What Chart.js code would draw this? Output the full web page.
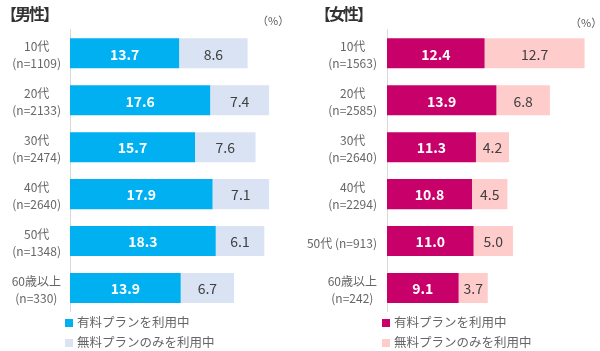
<!DOCTYPE html>
<html>
<head>
<meta charset="utf-8">
<script src="https://cdn.jsdelivr.net/npm/chart.js@4.4.0/dist/chart.umd.min.js"></script>
<style>
  body { margin: 0; background: #fff; font-family: "Noto Sans CJK JP", "Noto Sans", sans-serif; }
  #wrap { position: relative; width: 600px; height: 351px; overflow: hidden; }
  canvas { position: absolute; top: 0; }
  .title { position: absolute; top: 1px; font-size: 16px; font-weight: bold; color: #333; letter-spacing: -2px; }
  .unit { position: absolute; font-size: 11px; color: #595959; }
  .legend { position: absolute; font-size: 12.5px; color: #666; line-height: 20px; }
  .legend span { display: inline-block; width: 8px; height: 8px; margin-right: 4px; vertical-align: 0px; }
</style>
</head>
<body>
<div id="wrap">
  <canvas id="male" width="300" height="351" style="left:0"></canvas>
  <canvas id="female" width="300" height="351" style="left:300px"></canvas>
  <div class="title" style="left:1px">【男性】</div>
  <div class="title" style="left:315px">【女性】</div>
  <div class="unit" style="left:257px;top:12px">（%）</div>
  <div class="unit" style="left:570px;top:14px">（%）</div>
  <div class="legend" style="left:65px;top:312px">
    <div><span style="background:#00B0F0"></span>有料プランを利用中</div>
    <div><span style="background:#DAE3F3"></span>無料プランのみを利用中</div>
  </div>
  <div class="legend" style="left:382px;top:312px">
    <div><span style="background:#C8006A"></span>有料プランを利用中</div>
    <div><span style="background:#FFCCCC"></span>無料プランのみを利用中</div>
  </div>
</div>
<script>
// データ
const seriesNames = ["有料プランを利用中", "無料プランのみを利用中"];

const maleLabels = [["10代", "(n=1109)"], ["20代", "(n=2133)"], ["30代", "(n=2474)"], ["40代", "(n=2640)"], ["50代", "(n=1348)"], ["60歳以上", "(n=330)"]];
const malePaid = [13.7, 17.6, 15.7, 17.9, 18.3, 13.9];
const maleFree = [8.6, 7.4, 7.6, 7.1, 6.1, 6.7];

const femaleLabels = [["10代", "(n=1563)"], ["20代", "(n=2585)"], ["30代", "(n=2640)"], ["40代", "(n=2294)"], "50代 (n=913)", ["60歳以上", "(n=242)"]];
const femalePaid = [12.4, 13.9, 11.3, 10.8, 11.0, 9.1];
const femaleFree = [12.7, 6.8, 4.2, 4.5, 5.0, 3.7];

const FONT = '"Noto Sans CJK JP", "Noto Sans", sans-serif';

// カテゴリラベル（複数行は中央揃え、ブロックは右寄せ）
const catLabels = {
  id: 'catLabels',
  afterDraw(chart, args, opts) {
    const ctx = chart.ctx;
    const y = chart.scales.y;
    ctx.save();
    ctx.font = '12px ' + FONT;
    ctx.fillStyle = '#666';
    ctx.textAlign = 'center';
    ctx.textBaseline = 'middle';
    chart.data.labels.forEach((lab, i) => {
      const lines = Array.isArray(lab) ? lab : [lab];
      const w = Math.max(...lines.map(l => ctx.measureText(l).width));
      const cx = chart.chartArea.left - opts.pad - w / 2;
      const cy = y.getPixelForValue(i) + 2;
      const lh = 17;
      lines.forEach((l, k) => {
        ctx.fillText(l, cx, cy + (k - (lines.length - 1) / 2) * lh);
      });
    });
    ctx.restore();
  }
};

// 値ラベル
const valueLabels = {
  id: 'valueLabels',
  afterDatasetsDraw(chart) {
    const ctx = chart.ctx;
    ctx.save();
    ctx.textAlign = 'center';
    ctx.textBaseline = 'middle';
    chart.data.datasets.forEach((ds, di) => {
      const meta = chart.getDatasetMeta(di);
      ctx.font = (di === 0 ? 'bold ' : '') + '14px ' + FONT;
      ctx.fillStyle = di === 0 ? '#fff' : '#404040';
      meta.data.forEach((bar, i) => {
        ctx.fillText(ds.data[i].toFixed(1), (bar.x + bar.base) / 2, bar.y + 1);
      });
    });
    ctx.restore();
  }
};

function makeChart(id, labels, paid, free, colors, axisW, max, padR, pad) {
  new Chart(document.getElementById(id), {
    type: 'bar',
    data: {
      labels: labels,
      datasets: [
        { label: seriesNames[0], data: paid, backgroundColor: colors[0] },
        { label: seriesNames[1], data: free, backgroundColor: colors[1] }
      ]
    },
    options: {
      indexAxis: 'y',
      responsive: false,
      animation: false,
      layout: { padding: { top: 29.8, bottom: 39.5, left: 0, right: padR } },
      datasets: { bar: { categoryPercentage: 1, barPercentage: 0.64 } },
      scales: {
        x: { display: false, stacked: true, min: 0, max: max },
        y: {
          stacked: true,
          grid: { display: false },
          border: { display: true, color: '#D9D9D9', width: 1 },
          ticks: { display: false },
          afterFit(scale) { scale.width = axisW; }
        }
      },
      plugins: {
        legend: { display: false },
        tooltip: { enabled: false },
        catLabels: { pad: pad }
      }
    },
    plugins: [catLabels, valueLabels]
  });
}

makeChart('male', maleLabels, malePaid, maleFree, ['#00B0F0', '#DAE3F3'], 70, 28, 7, 9);
makeChart('female', femaleLabels, femalePaid, femaleFree, ['#C8006A', '#FFCCCC'], 87, 27, 0.5, 10);
</script>
</body>
</html>
